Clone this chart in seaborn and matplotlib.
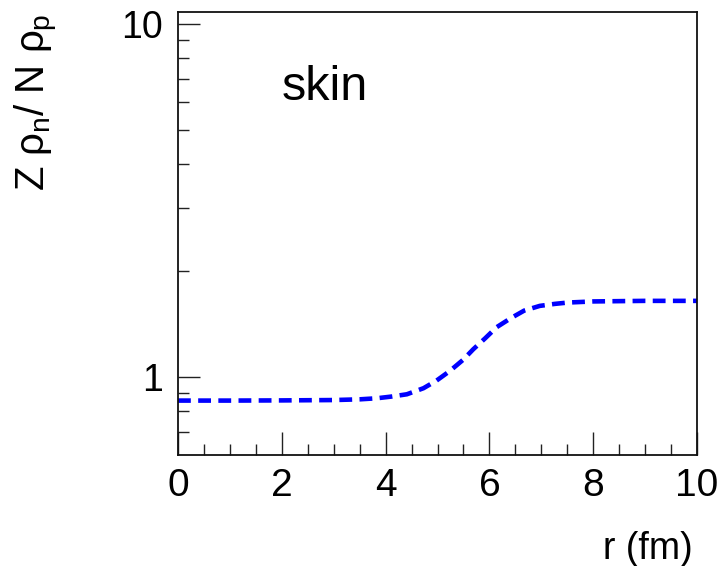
import numpy as np
import pandas as pd
import matplotlib
matplotlib.use("Agg")
import matplotlib.pyplot as plt
import matplotlib.ticker as mticker
import seaborn as sns

# data
r_fm = [0.0, 1.0, 2.0, 3.0, 3.5, 3.83, 4.12, 4.41, 4.73, 4.98, 5.24, 5.49, 5.69,
        5.92, 6.14, 6.41, 6.67, 6.97, 7.26, 7.51, 8.0, 9.0, 10.0]
ratio = [0.857, 0.857, 0.858, 0.860, 0.864, 0.870, 0.880, 0.893, 0.929, 0.976,
         1.040, 1.117, 1.198, 1.287, 1.383, 1.466, 1.541, 1.589, 1.610, 1.624,
         1.636, 1.642, 1.642]
x_ticks = [0, 2, 4, 6, 8, 10]
x_tick_labels = ["0", "2", "4", "6", "8", "10"]
y_ticks = [1, 10]
y_tick_labels = ["1", "10"]

sns.set_theme(style="white")
plt.rcParams["font.family"] = ["Liberation Sans", "DejaVu Sans"]
plt.rcParams["mathtext.fontset"] = "custom"
plt.rcParams["mathtext.rm"] = "Liberation Sans"
plt.rcParams["mathtext.it"] = "Liberation Sans"
plt.rcParams["mathtext.bf"] = "Liberation Sans:bold"
plt.rcParams["text.color"] = "black"
plt.rcParams["xtick.labelcolor"] = "black"
plt.rcParams["ytick.labelcolor"] = "black"

df = pd.DataFrame({"r": r_fm, "ratio": ratio})

fig = plt.figure(figsize=(7.2, 5.66), dpi=100)
ax = fig.add_axes([178 / 720, 1 - 455 / 566, (697 - 178) / 720, (455 - 12) / 566])

sns.lineplot(data=df, x="r", y="ratio", ax=ax, color="#0000ff", lw=3.3,
             linestyle=(0, (2.8, 1.6)), legend=False)

ax.set_yscale("log")
ax.set_xlim(0, 10)
ax.set_ylim(0.601, 10.8)

ax.set_xticks(x_ticks)
ax.set_xticklabels(x_tick_labels)
ax.xaxis.set_minor_locator(mticker.MultipleLocator(0.5))
ax.set_yticks(y_ticks)
ax.set_yticklabels(y_tick_labels)
ax.yaxis.set_minor_locator(mticker.LogLocator(base=10, subs=np.arange(2, 10)))
ax.yaxis.set_minor_formatter(mticker.NullFormatter())

ax.tick_params(axis="both", which="both", direction="in", color="#222222",
               width=1.0, top=False, right=False, bottom=True, left=True)
ax.tick_params(axis="x", which="major", length=16.5, labelsize=28, pad=9,
               labelcolor="black")
ax.tick_params(axis="x", which="minor", length=8)
ax.tick_params(axis="y", which="major", length=16, labelsize=27, pad=11,
               labelcolor="black")
ax.tick_params(axis="y", which="minor", length=8)

for s in ax.spines.values():
    s.set_color("#111111")
    s.set_linewidth(1.3)

ax.set_xlabel("")
ax.set_ylabel("")

fig.text(603 / 720, 1 - 559 / 566, "r (fm)", fontsize=27, ha="left", va="baseline",
         color="black")
fig.text(13 / 720, 1 - 14 / 566, r"Z $\rho_{n}$/ N $\rho_{p}$", fontsize=29,
         rotation=90, ha="left", va="top", color="black")
fig.text(282 / 720, 1 - 99.5 / 566, "skin", fontsize=35, ha="left", va="baseline",
         color="black")

fig.savefig("out.png", dpi=100)
